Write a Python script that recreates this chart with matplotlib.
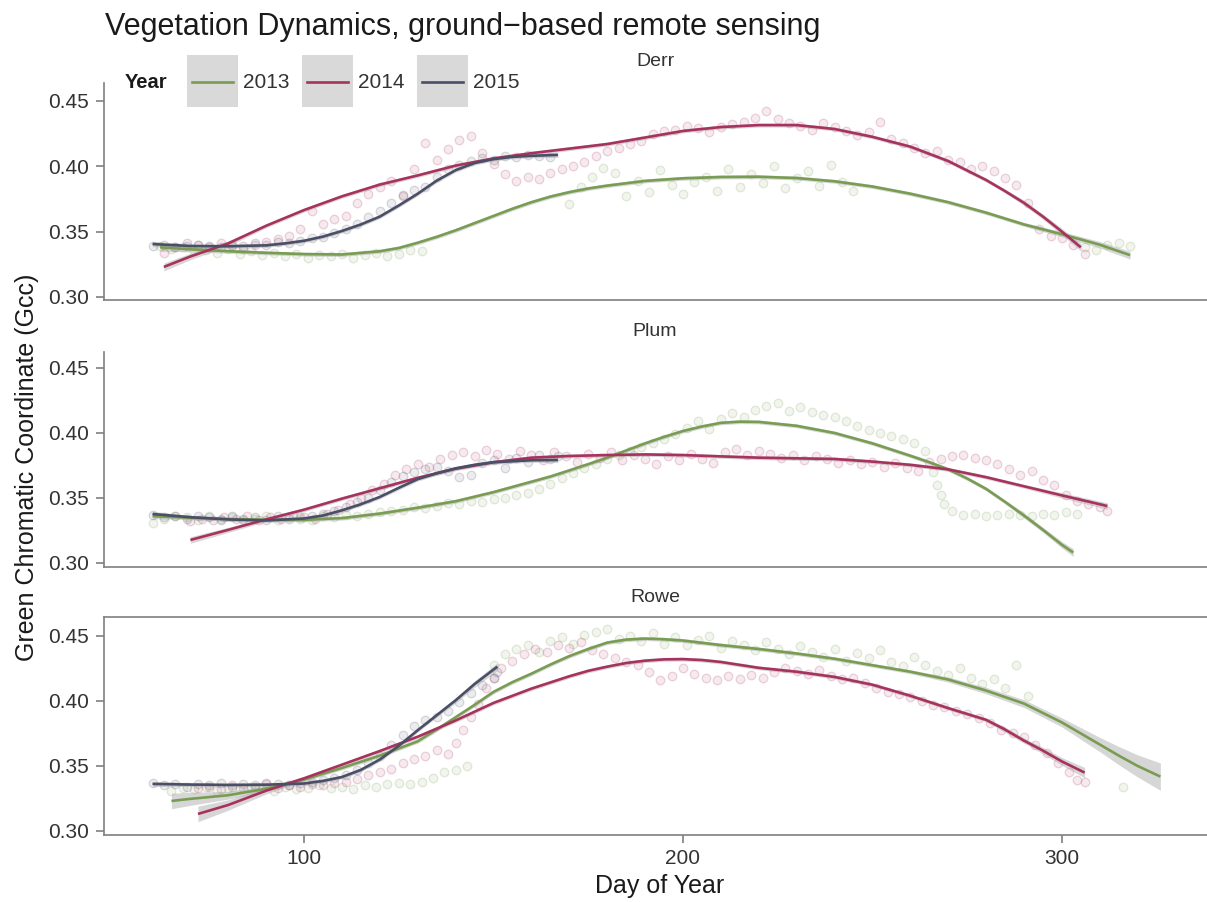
import matplotlib
matplotlib.use("Agg")
import matplotlib.pyplot as plt
from matplotlib.patches import Rectangle
from matplotlib.lines import Line2D

plt.rcParams["font.family"] = ["Liberation Sans", "DejaVu Sans"]

W, H = 1207, 902

years = ["2013", "2014", "2015"]
year_colors = {"2013": "#789d52", "2014": "#a8325e", "2015": "#4a4e66"}
sites = ["Derr", "Plum", "Rowe"]

# ---------------- observations (day of year, Gcc) ----------------
derr_2013_day = [62, 65, 68, 71, 74, 77, 80, 83, 86, 89, 92, 95, 98, 101, 104, 107, 110, 113, 116, 119, 122, 125, 128, 131,
                 170, 173, 176, 179, 182, 185, 188, 191, 194, 197, 200, 203, 206, 209, 212, 215, 218, 221, 224, 227, 230,
                 233, 236, 239, 242, 245, 306, 309, 312, 315, 318]
derr_2013_gcc = [.339, .337, .338, .335, .336, .334, .337, .333, .335, .332, .334, .331, .333, .330, .332, .331, .333, .330,
                 .332, .334, .331, .333, .336, .335,
                 .371, .384, .392, .399, .395, .377, .389, .380, .397, .386, .379, .388, .392, .381, .398, .384, .394,
                 .387, .400, .383, .391, .396, .385, .401, .388, .381, .338, .336, .340, .341, .339]

derr_2014_day = [63, 66, 69, 72, 75, 78, 81, 84, 87, 90, 93, 96, 99,
                 102, 105, 108, 111, 114, 117, 120, 123, 126, 129, 132, 135, 138, 141, 144, 147, 150, 153, 156, 159,
                 162, 165, 168, 171, 174, 177, 180, 183, 186, 189,
                 192, 195, 198, 201, 204, 207, 210, 213, 216, 219, 222, 225, 228, 231, 234, 237, 240, 243, 246, 249,
                 252, 255, 258, 261, 264, 267, 270, 273, 276, 279, 282, 285, 288, 291, 294, 297, 300, 303, 306]
derr_2014_gcc = [.334, .338, .339, .340, .338, .341, .339, .337, .340, .342, .344, .347, .352,
                 .366, .356, .360, .362, .372, .379, .384, .389, .377, .398, .418, .405, .413, .420, .423, .410, .402,
                 .394, .389, .392, .390, .395, .398, .400, .403, .408, .412, .414, .417, .419,
                 .425, .427, .428, .431, .429, .426, .430, .432, .434, .437, .442, .436, .433, .431, .428, .433, .430,
                 .427, .424, .426, .434, .421, .418, .414, .410, .412, .405, .403, .398, .400, .396, .391, .386, .372,
                 .352, .347, .345, .340, .333]

derr_2015_day = [60, 63, 66, 69, 72, 75, 78, 81, 84, 87, 90, 93, 96, 99, 102, 105, 108, 111, 114, 117, 120, 123, 126,
                 129, 132, 135, 138, 141, 144, 147, 150, 153, 156, 159, 162, 165]
derr_2015_gcc = [.339, .340, .338, .341, .340, .339, .338, .340, .339, .341, .340, .342, .341, .343, .345, .346, .349,
                 .352, .356, .361, .366, .372, .378, .382, .384, .392, .398, .401, .404, .406, .405, .408, .407, .409,
                 .408, .407]

plum_2013_day = [60, 63, 66, 69, 72, 75, 78, 81, 84, 87, 90, 93, 96, 99, 102, 105, 108, 111, 114, 117, 120,
                 123, 126, 129, 132, 135, 138, 141, 144, 147, 150, 153, 156, 159, 162, 165,
                 168, 171, 174, 177, 180, 183, 186, 189, 192, 195, 198,
                 201, 204, 207, 210, 213, 216, 219, 222, 225, 228, 231, 234, 237, 240, 243, 246, 249, 252, 255, 258,
                 261, 264, 266, 267, 268, 269, 271,
                 274, 277, 280, 283, 286, 289, 292, 295, 298, 301, 304]
plum_2013_gcc = [.331, .334, .336, .335, .333, .336, .334, .335, .333, .334, .336, .333, .335, .334, .333, .336, .335,
                 .337, .336, .338, .339,
                 .340, .341, .343, .342, .344, .346, .345, .348, .347, .349, .350, .352, .354, .357, .361,
                 .365, .369, .373, .376, .380, .383, .386, .389, .392, .395, .399,
                 .404, .409, .403, .411, .415, .412, .418, .421, .423, .417, .420, .416, .414, .412, .409, .405, .402,
                 .400, .398, .395, .392, .386, .370, .360, .352, .345, .340,
                 .337, .338, .336, .337, .338, .337, .336, .338, .337, .339, .338]

plum_2014_day = [70, 73, 76, 79, 82, 85, 88, 91, 94, 97, 100, 103,
                 106, 109, 112, 115, 118, 121, 124, 127, 130, 133, 136, 139,
                 142, 145, 148, 151, 154, 157, 160, 163, 166, 169, 172, 175,
                 178, 181, 184, 187, 190, 193, 196, 199, 202, 205, 208, 211, 214, 217, 220, 223, 226, 229, 232, 235,
                 238, 241, 244, 247, 250, 253, 256, 259, 262,
                 265, 268, 271, 274, 277, 280, 283, 286, 289,
                 292, 295, 298, 301, 304, 307, 310, 312]
plum_2014_gcc = [.332, .334, .333, .335, .334, .336, .333, .335, .334, .336, .335, .334,
                 .338, .341, .345, .350, .356, .361, .368, .372, .376, .374, .380, .383,
                 .385, .382, .387, .384, .380, .386, .383, .379, .385, .382, .378, .384,
                 .381, .385, .379, .383, .380, .376, .382, .379, .384, .380, .377, .385, .388, .383, .386, .384, .381,
                 .383, .379, .382, .380, .377, .379, .376, .378, .374, .377, .373, .371,
                 .378, .380, .382, .383, .381, .379, .376, .372, .368,
                 .371, .364, .360, .352, .348, .345, .343, .340]

plum_2015_day = [60, 63, 66, 69, 72, 75, 78, 81, 84, 87, 90, 93, 96, 99,
                 102, 105, 108, 111, 114, 117, 120, 123, 126, 129, 132, 135,
                 138, 141, 144, 147, 150, 153, 156, 159, 162, 165, 167]
plum_2015_gcc = [.337, .335, .336, .334, .336, .335, .333, .336, .334, .335, .333, .336, .334, .335,
                 .336, .338, .340, .343, .347, .350, .356, .362, .367, .370, .372, .374,
                 .371, .366, .368, .377, .379, .373, .381, .378, .383, .380, .382]

rowe_2013_day = [65, 68, 71, 74, 77, 80, 83, 86, 89, 92, 95, 98, 101, 104, 107, 110, 113, 116, 119, 122, 125, 128, 131,
                 134, 137, 140, 143,
                 150, 153, 156, 159, 162, 165, 168, 171, 174, 177, 180, 183, 186,
                 189, 192, 195, 198, 201, 204, 207, 210, 213, 216, 219, 222, 225, 228, 231, 234, 237, 240, 243, 246,
                 249, 252, 255, 258, 261,
                 264, 267, 270, 273, 276, 279, 282, 285, 288, 291, 316]
rowe_2013_gcc = [.331, .333, .332, .334, .331, .333, .332, .334, .333, .331, .334, .332, .333, .335, .333, .334, .332,
                 .335, .334, .336, .337, .336, .338, .341, .345, .347, .350,
                 .428, .436, .440, .443, .438, .446, .449, .444, .451, .453, .455, .448, .450,
                 .446, .452, .444, .449, .443, .447, .450, .441, .446, .443, .439, .445, .440, .436, .442, .438, .434,
                 .440, .431, .437, .433, .439, .430, .427, .434,
                 .428, .423, .420, .425, .418, .413, .417, .410, .428, .404, .334]

rowe_2014_day = [72, 75, 78, 81, 84, 87, 90, 93, 96, 99, 102, 105, 108,
                 111, 114, 117, 120, 123, 126, 129, 132, 135, 138,
                 140, 142, 144, 146, 148, 150, 152, 155,
                 158, 161, 164, 167, 170, 173, 176, 179, 182, 185, 188,
                 191, 194, 197, 200, 203, 206, 209, 212, 215, 218, 221, 224,
                 227, 230, 233, 236, 239, 242, 245, 248, 251, 254, 257, 260, 263, 266, 269, 272, 275, 278, 281, 284,
                 287, 290, 293, 296, 299, 302, 304, 306]
rowe_2014_gcc = [.333, .334, .332, .335, .333, .334, .336, .333, .335, .334, .336, .335, .337,
                 .338, .340, .343, .345, .348, .352, .355, .358, .362, .359,
                 .368, .378, .388, .398, .410, .418, .425, .431,
                 .436, .440, .438, .443, .441, .445, .439, .436, .433, .430, .428,
                 .422, .416, .419, .425, .421, .418, .416, .419, .417, .420, .418, .422,
                 .425, .423, .421, .424, .419, .417, .418, .414, .410, .407, .405, .403, .400, .397, .395, .392, .390,
                 .387, .383, .378, .375, .372, .366, .360, .352, .345, .339, .338]

rowe_2015_day = [60, 63, 66, 69, 72, 75, 78, 81, 84, 87, 90, 93, 96, 99,
                 102, 105, 108, 111, 114, 117, 120, 123, 126, 129, 132, 135, 138, 141, 144, 147, 150, 151]
rowe_2015_gcc = [.337, .335, .336, .334, .336, .335, .337, .334, .336, .335, .337, .336, .335, .337,
                 .338, .339, .341, .343, .347, .352, .358, .366, .374, .381, .385, .388, .392, .399, .406, .412, .418,
                 .422]

# ---------------- smoothed trend (day, Gcc, half-width of 95% band) ----------------
derr_2013_fit_day = [62, 70, 80, 90, 100, 110, 120, 125, 130, 135, 140, 145, 150, 155, 160, 165, 170, 175, 180, 190,
                     200, 210, 220, 230, 240, 250, 260, 270, 280, 290, 300, 310, 318]
derr_2013_fit = [.338, .3365, .335, .3338, .3328, .3325, .335, .3375, .3415, .346, .351, .3565, .362, .3675, .3725,
                 .3768, .3802, .383, .3852, .3888, .3908, .3918, .392, .391, .3885, .3845, .379, .3725, .3645, .3555,
                 .348, .340, .332]
derr_2013_se = [.003, .002] + [.0015] * 28 + [.002, .0025, .003]

derr_2014_fit_day = [63, 70, 80, 90, 100, 110, 120, 130, 140, 150, 160, 170, 180, 190, 200, 210, 220, 230, 240, 250, 260,
                     270, 280, 285, 290, 295, 300, 305]
derr_2014_fit = [.323, .331, .341, .3545, .3665, .377, .386, .393, .4005, .406, .410, .4135, .417, .422, .427, .430,
                 .4315, .4315, .4285, .4225, .415, .404, .3895, .381, .372, .3615, .350, .338]
derr_2014_se = [.003, .0025, .002] + [.0015] * 21 + [.002, .002, .0025, .003]

derr_2015_fit_day = [60, 70, 80, 90, 95, 100, 105, 110, 115, 120, 125, 130, 135, 140, 145, 150, 155, 160, 167]
derr_2015_fit = [.3405, .339, .3388, .3395, .341, .343, .3462, .3505, .3555, .3615, .370, .379, .389, .397, .4025,
                 .4055, .4072, .408, .4087]
derr_2015_se = [.002] + [.0015] * 17 + [.002]

plum_2013_fit_day = [60, 70, 80, 90, 100, 110, 120, 130, 140, 150, 160, 165, 170, 175, 180, 185, 190, 195, 200, 205, 210,
                     215, 220, 230, 240, 250, 260, 265, 270, 275, 280, 285, 290, 295, 300, 303]
plum_2013_fit = [.336, .3348, .3338, .3333, .3332, .3345, .338, .3425, .3475, .3545, .3625, .3665, .3712, .376, .381,
                 .3865, .392, .397, .4015, .405, .4078, .4087, .4085, .4055, .400, .392, .3825, .3775, .372, .365, .357,
                 .347, .3365, .3255, .314, .308]
plum_2013_se = [.002] + [.0015] * 31 + [.002, .002, .0025, .003]

plum_2014_fit_day = [70, 80, 90, 100, 110, 120, 130, 140, 150, 160, 170, 180, 190, 200, 210, 220, 230, 240, 250, 260,
                     270, 280, 290, 300, 312]
plum_2014_fit = [.3177, .3255, .3335, .341, .3495, .3575, .3655, .3725, .3775, .381, .3823, .383, .3835, .383, .382,
                 .381, .3805, .380, .378, .3755, .372, .366, .359, .352, .3438]
plum_2014_se = [.0025, .002] + [.0015] * 21 + [.002, .0025]

plum_2015_fit_day = [60, 70, 80, 90, 100, 105, 110, 115, 120, 125, 130, 135, 140, 145, 150, 160, 167]
plum_2015_fit = [.3377, .3352, .3335, .3327, .3342, .3365, .3405, .3452, .3508, .3578, .3645, .369, .3728, .3755,
                 .3775, .379, .3792]
plum_2015_se = [.002] + [.0015] * 15 + [.002]

rowe_2013_fit_day = [65, 70, 80, 90, 100, 110, 120, 130, 135, 140, 145, 150, 155, 160, 165, 170, 175, 180, 185, 190,
                     195, 200, 210, 220, 230, 240, 250, 260, 270, 280, 290, 300, 305, 310, 315, 320, 326]
rowe_2013_fit = [.3231, .3247, .3275, .3325, .3395, .3485, .358, .369, .378, .3875, .397, .407, .4145, .421, .428,
                 .4345, .440, .4449, .4472, .448, .4475, .4465, .443, .440, .4365, .4325, .4275, .4225, .4165, .408,
                 .398, .3835, .375, .3665, .358, .350, .3418]
rowe_2013_se = [.006, .005, .003, .002] + [.0015] * 24 + [.002, .0025, .003, .0035, .0045, .0055, .007, .0085, .0105]

rowe_2014_fit_day = [72, 80, 90, 100, 110, 120, 130, 140, 150, 160, 170, 175, 180, 185, 190, 195, 200, 205, 210, 220,
                     230, 240, 250, 260, 270, 280, 285, 290, 295, 300, 306]
rowe_2014_fit = [.3131, .320, .331, .3405, .351, .3615, .3725, .385, .3985, .4095, .419, .4232, .4264, .4292, .431,
                 .432, .4322, .4315, .430, .4255, .4225, .4185, .4125, .404, .3945, .3855, .378, .3695, .3618, .3535,
                 .3449]
rowe_2014_se = [.006, .004, .0025] + [.0015] * 23 + [.002, .002, .0025, .003, .004]

rowe_2015_fit_day = [60, 70, 80, 90, 100, 105, 110, 115, 120, 125, 130, 135, 140, 145, 151]
rowe_2015_fit = [.3362, .3357, .3354, .3356, .3365, .3385, .3415, .347, .355, .3655, .3775, .389, .4005, .413, .4264]
rowe_2015_se = [.002] + [.0015] * 11 + [.002, .0025, .003]

points = {
    "Derr": {"2013": (derr_2013_day, derr_2013_gcc), "2014": (derr_2014_day, derr_2014_gcc),
             "2015": (derr_2015_day, derr_2015_gcc)},
    "Plum": {"2013": (plum_2013_day, plum_2013_gcc), "2014": (plum_2014_day, plum_2014_gcc),
             "2015": (plum_2015_day, plum_2015_gcc)},
    "Rowe": {"2013": (rowe_2013_day, rowe_2013_gcc), "2014": (rowe_2014_day, rowe_2014_gcc),
             "2015": (rowe_2015_day, rowe_2015_gcc)},
}
trends = {
    "Derr": {"2013": (derr_2013_fit_day, derr_2013_fit, derr_2013_se),
             "2014": (derr_2014_fit_day, derr_2014_fit, derr_2014_se),
             "2015": (derr_2015_fit_day, derr_2015_fit, derr_2015_se)},
    "Plum": {"2013": (plum_2013_fit_day, plum_2013_fit, plum_2013_se),
             "2014": (plum_2014_fit_day, plum_2014_fit, plum_2014_se),
             "2015": (plum_2015_fit_day, plum_2015_fit, plum_2015_se)},
    "Rowe": {"2013": (rowe_2013_fit_day, rowe_2013_fit, rowe_2013_se),
             "2014": (rowe_2014_fit_day, rowe_2014_fit, rowe_2014_se),
             "2015": (rowe_2015_fit_day, rowe_2015_fit, rowe_2015_se)},
}

y_ticks = [0.30, 0.35, 0.40, 0.45]
x_ticks = [100, 200, 300]

# ---------------- layout (pixel boxes of each facet) ----------------
panel_px = {"Derr": (83, 300, (0.2977, 0.4637), 62),
            "Plum": (352, 567, (0.2969, 0.4623), 331),
            "Rowe": (617, 835, (0.2969, 0.4646), 598)}
left_px = 104

fig = plt.figure(figsize=(W / 100, H / 100), dpi=100)
axis_grey = "#7f7f7f"
text_col = "#333333"

for site in sites:
    top, bottom, ylim, strip_y = panel_px[site]
    ax = fig.add_axes([left_px / W, 1 - bottom / H, (W - left_px) / W, (bottom - top) / H])
    ax.set_xlim(47.2, 338.3)
    ax.set_ylim(*ylim)
    for yr in years:
        d, g = points[site][yr]
        c = matplotlib.colors.to_rgb(year_colors[yr])
        ax.scatter(d, g, s=38, facecolors=[(*c, 0.10)], edgecolors=[(*c, 0.20)], linewidths=0.9, zorder=2)
    for yr in years:
        d, g, se = trends[site][yr]
        lo = [a - b for a, b in zip(g, se)]
        hi = [a + b for a, b in zip(g, se)]
        ax.fill_between(d, lo, hi, color="#a6a6a6", alpha=0.45, linewidth=0, zorder=3)
        ax.plot(d, g, color=year_colors[yr], lw=1.9, solid_capstyle="butt", solid_joinstyle="round", zorder=4)

    ax.set_yticks(y_ticks)
    ax.set_yticklabels([f"{v:.2f}" for v in y_ticks])
    ax.tick_params(axis="y", length=6, width=1.2, color=axis_grey, labelcolor=text_col, labelsize=15, pad=5)
    ax.spines["right"].set_visible(False)
    if site != "Rowe":
        ax.spines["top"].set_visible(False)
        ax.set_xticks([])
    else:
        ax.set_xticks(x_ticks)
        ax.tick_params(axis="x", length=6, width=1.2, color=axis_grey, labelcolor=text_col, labelsize=15, pad=4)
    for s in ["left", "bottom", "top"]:
        ax.spines[s].set_color(axis_grey)
        ax.spines[s].set_linewidth(1.2)
    ax.patch.set_alpha(0)
    fig.text(655 / W, 1 - strip_y / H, site, ha="center", va="center", fontsize=14, color=text_col)

fig.text(105 / W, 1 - 27 / H, "Vegetation Dynamics, ground\u2212based remote sensing", ha="left", va="center",
         fontsize=22, color="#1a1a1a")
fig.text(27 / W, 1 - 467 / H, "Green Chromatic Coordinate (Gcc)", rotation=90, ha="center", va="center",
         fontsize=18, color="#1a1a1a")
fig.text(660 / W, 1 - 886 / H, "Day of Year", ha="center", va="center", fontsize=18, color="#1a1a1a")

# ---------------- legend ----------------
fig.text(125 / W, 1 - 83 / H, "Year", ha="left", va="center", fontsize=14.5, fontweight="bold", color="#1a1a1a")
key_left = [187, 302, 417]
for yr, kx in zip(years, key_left):
    fig.add_artist(Rectangle((kx / W, 1 - 107 / H), 51 / W, 52 / H, transform=fig.transFigure,
                             facecolor="#d9d9d9", edgecolor="none"))
    fig.add_artist(Line2D([(kx + 5) / W, (kx + 46) / W], [1 - 82 / H, 1 - 82 / H], transform=fig.transFigure,
                          color=year_colors[yr], lw=1.9))
    fig.text((kx + 56) / W, 1 - 83 / H, yr, ha="left", va="center", fontsize=15, color=text_col)

fig.savefig("out.png", dpi=100)
